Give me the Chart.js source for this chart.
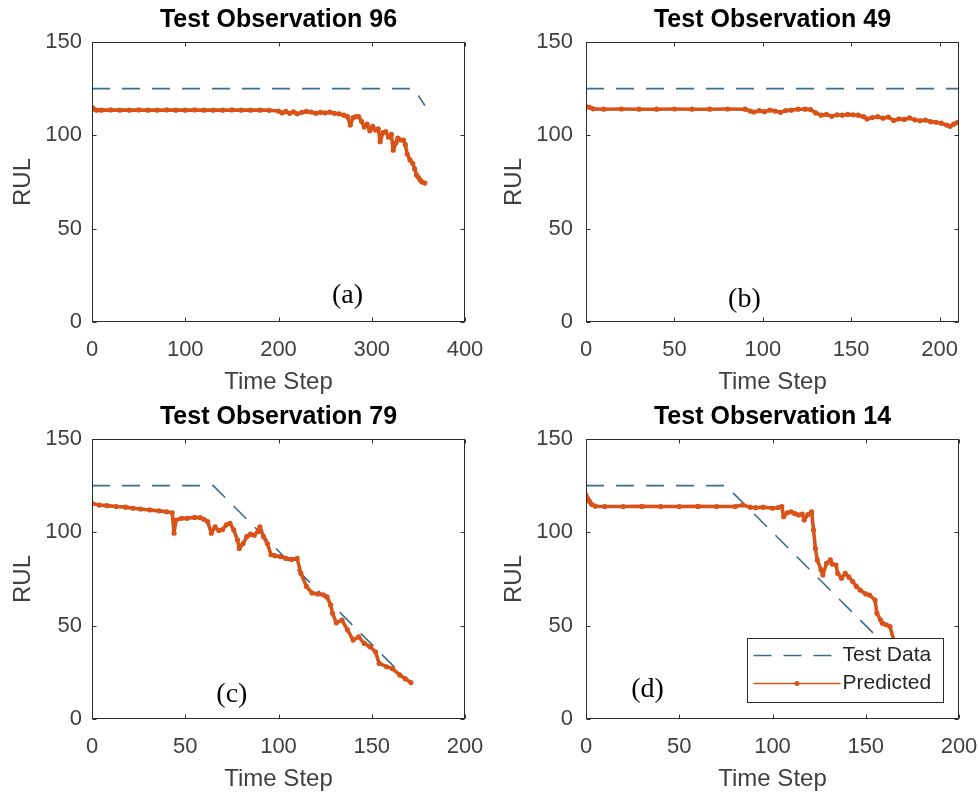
<!DOCTYPE html>
<html><head><meta charset="utf-8">
<script src="https://cdn.jsdelivr.net/npm/chart.js@4.4.0/dist/chart.umd.min.js"></script>
<style>
html,body{margin:0;padding:0;background:#fff;}
#wrap{position:relative;width:979px;height:794px;overflow:hidden;background:#fff;}
#wrap canvas{position:absolute;}
</style></head><body>
<div id="wrap">
<canvas id="cA" width="489" height="397" style="left:0;top:0"></canvas>
<canvas id="cB" width="490" height="397" style="left:489px;top:0"></canvas>
<canvas id="cC" width="489" height="397" style="left:0;top:397px"></canvas>
<canvas id="cD" width="490" height="397" style="left:489px;top:397px"></canvas>
</div>
<script>
// ---------- data ----------
const panelTitles = ['Test Observation 96', 'Test Observation 49', 'Test Observation 79', 'Test Observation 14'];
const panelTags = ['(a)', '(b)', '(c)', '(d)'];
const seriesNames = ['Test Data', 'Predicted'];
const xAxisTitle = 'Time Step';
const yAxisTitle = 'RUL';
const yTicks = [0, 50, 100, 150];
const xTicksA = [0, 100, 200, 300, 400];
const xTicksB = [0, 50, 100, 150, 200];
const xTicksC = [0, 50, 100, 150, 200];
const xTicksD = [0, 50, 100, 150, 200];
const xMaxA = 400, xMaxB = 211, xMaxC = 200, xMaxD = 200;

// Panel (a)
const testAX = [0, 345, 357];
const testAY = [125, 125, 116];
const predAX = [0,2,5,10,20,30,40,50,60,70,80,90,100,110,120,130,140,150,160,170,180,190,200,204,208,212,216,220,225,230,235,240,245,250,255,260,265,270,274,277,280,283,286,289,292,295,298,301,304,307,309,312,315,318,321,323,326,328,331,334,336,338,341,344,346,348,350,352,354,357];
const predAY = [115,114,113.5,113.5,113.6,113.5,113.5,113.6,113.5,113.5,113.6,113.5,113.5,113.6,113.5,113.5,113.5,113.6,113.5,113.5,113.5,113.4,113,112,112.8,111.8,112.6,111.5,112.3,112.8,112.5,111.8,112.3,112,112.4,111.8,111.5,110.8,110,105.5,109.5,110,110,107.5,104.5,106,102.5,104.8,102.8,103.5,96.6,101.5,102,99,100.5,92,96,98.5,97.5,97.5,95,90,86.8,85,82,78.7,77.5,76,75,74.4];

// Panel (b)
const testBX = [0, 211];
const testBY = [125, 125];
const predBX = [0,2,4,10,20,30,40,50,60,70,80,90,93,95,98,101,104,107,110,113,116,120,124,127,130,133,136,139,142,145,148,151,154,157,159,162,165,168,171,174,177,180,183,186,189,192,195,198,201,204,206,208,210,211];
const predBY = [115.5,115,114.2,114,114.1,114,114,114.1,114,114,114.1,114,113,112.5,113.2,112.7,113.5,113,112.3,113.3,113.5,114,114,113.8,112,110.8,111.2,110.2,111,110.8,111.2,111,110.8,110,108.8,109.5,110,109.2,109.8,108,108.8,108.5,109.3,108.3,107.8,108.2,107.3,107,106.5,105.5,104.8,106,106.8,107];

// Panel (c)
const testCX = [0, 65, 171];
const testCY = [125, 125, 19];
const predCX = [0,4,8,13,18,22,26,31,36,40,43,44,45,48,51,55,58,60,62,64,66,68,70,72,74,76,78,79,81,83,85,87,89,90,92,94,96,98,101,104,107,110,112,115,118,121,124,126,128,129,131,134,137,140,143,146,149,152,154,158,161,165,168,171];
const predCY = [115.5,114.6,114.3,113.8,113.5,112.9,112.5,112,111.5,111,110.5,99.5,106.6,107.5,107.5,108,107.9,107,105.7,99.5,103,101,101.5,104,104.8,101.3,95.9,91.4,94,97.7,99,98.5,100.5,103,97.7,94,88,87.5,87,86,85.5,86,78,71,67.5,67,66.5,65.5,61,56.6,51.5,53,47.7,42.3,44,40.5,38.8,36,29.8,28,27,23.6,21.5,19.5];

// Panel (d)
const testDX = [0, 75, 168];
const testDY = [125, 125, 32];
const predDX = [0,1,2,3,5,10,20,30,40,50,60,70,80,84,88,91,95,100,103,105,106,108,110,112,114,116,117,119,121,122,123,124,126,127,129,131,132,134,135,137,139,141,143,145,147,150,152,155,156,158,159,161,163,165,166,168];
const predDY = [120,118,116.4,115,114,113.8,113.8,113.9,113.8,113.8,113.9,113.8,113.8,114.6,113.5,113.2,113.5,112.9,113.3,113.8,108.4,110.5,111,110,109.3,109.8,106.6,109.5,111,101.2,91.4,85.2,80,77.1,83.4,85.2,83,82.5,78,75.4,78,76,73.6,71,69.1,67,66.4,63.75,56.6,53,51.25,50.5,49.5,42.3,40,37];

// annotation anchor (data coords) for the (a)..(d) tags
const tagAnchors = [[274, 14.5], [89.6, 12.3], [75, 13.4], [33, 16]];

// ---------- styling / build ----------
const SANS = '"Liberation Sans", Arial, Helvetica, sans-serif';
const BLUE = '#3a6d8e';
const ORANGE = '#D95319';
const AXC = '#404040';
const DASH = [18, 12];

const toPts = (xs, ys) => xs.map((x, i) => ({x: x, y: ys[i]}));

const boxPlugin = {
  id: 'matlabBox',
  afterDatasetsDraw(chart, args, o) {
    const {ctx, chartArea: a, scales} = chart;
    ctx.save();
    const L = Math.round(a.left) + 0.5, T = Math.round(a.top) + 0.5;
    const R = Math.round(a.right) - 0.5, B = Math.round(a.bottom) - 0.5;
    ctx.strokeStyle = '#333';
    ctx.lineWidth = 1;
    ctx.setLineDash([]);
    const tl = 4;
    ctx.beginPath();
    scales.x.ticks.forEach(t => {
      const p = Math.round(scales.x.getPixelForValue(t.value)) + 0.5;
      ctx.moveTo(p, B); ctx.lineTo(p, B - tl);
      ctx.moveTo(p, T); ctx.lineTo(p, T + tl);
    });
    scales.y.ticks.forEach(t => {
      const p = Math.round(scales.y.getPixelForValue(t.value)) + 0.5;
      ctx.moveTo(L, p); ctx.lineTo(L + tl, p);
      ctx.moveTo(R, p); ctx.lineTo(R - tl, p);
    });
    ctx.stroke();
    ctx.strokeStyle = '#2b2b2b';
    ctx.strokeRect(L, T, R - L, B - T);
    // panel tag
    ctx.fillStyle = '#000';
    ctx.font = '28px "Liberation Serif", "Times New Roman", serif';
    ctx.textAlign = 'center';
    ctx.textBaseline = 'middle';
    ctx.fillText(o.tag, scales.x.getPixelForValue(o.tagX), scales.y.getPixelForValue(o.tagY) + 1);
    // legend
    if (o.legend) {
      const w = 196, h = 64;
      const lx = Math.round(a.right - 16 - w) + 0.5, ly = Math.round(a.bottom - 17 - h) + 0.5;
      ctx.fillStyle = '#fff';
      ctx.fillRect(lx, ly, w, h);
      ctx.strokeStyle = '#2b2b2b';
      ctx.lineWidth = 1;
      ctx.strokeRect(lx, ly, w, h);
      const rows = [17, 45];
      const sx0 = lx + 6, sx1 = lx + 93;
      ctx.strokeStyle = BLUE; ctx.lineWidth = 1.5; ctx.setLineDash(DASH);
      ctx.beginPath(); ctx.moveTo(sx0, ly + rows[0]); ctx.lineTo(sx1, ly + rows[0]); ctx.stroke();
      ctx.setLineDash([]);
      ctx.strokeStyle = ORANGE; ctx.lineWidth = 1.5;
      ctx.beginPath(); ctx.moveTo(sx0, ly + rows[1]); ctx.lineTo(sx1, ly + rows[1]); ctx.stroke();
      ctx.fillStyle = ORANGE;
      ctx.beginPath(); ctx.arc((sx0 + sx1) / 2, ly + rows[1], 2.5, 0, Math.PI * 2); ctx.fill();
      ctx.fillStyle = '#262626';
      ctx.font = '21px ' + SANS;
      ctx.textAlign = 'left';
      ctx.textBaseline = 'middle';
      ctx.fillText(seriesNames[0], sx1 + 2, ly + rows[0]);
      ctx.fillText(seriesNames[1], sx1 + 2, ly + rows[1]);
    }
    ctx.restore();
  }
};

function makeChart(id, idx, tX, tY, pX, pY, xTicks, xMax, isRight, legend) {
  const yW = isRight ? 97 : 92;
  const padR = isRight ? 20 : 24;
  new Chart(document.getElementById(id), {
    type: 'line',
    data: {
      datasets: [
        {
          label: seriesNames[1], data: toPts(pX, pY), order: 0,
          borderColor: ORANGE, backgroundColor: ORANGE, borderWidth: 3.6,
          borderJoinStyle: 'round', borderCapStyle: 'round',
          pointRadius: 2.6, pointBorderWidth: 0, pointBackgroundColor: ORANGE,
          pointHoverRadius: 0, tension: 0
        },
        {
          label: seriesNames[0], data: toPts(tX, tY), order: 1,
          borderColor: BLUE, borderWidth: 1.6, borderDash: DASH,
          pointRadius: 0, tension: 0
        }
      ]
    },
    options: {
      responsive: false, animation: false, devicePixelRatio: 1, events: [],
      layout: {padding: {left: 0, right: padR, top: 0, bottom: 0}},
      plugins: {
        legend: {display: false},
        tooltip: {enabled: false},
        title: {
          display: true, text: panelTitles[idx], fullSize: false,
          color: '#000', font: {family: SANS, size: 25, weight: 'bold', lineHeight: 1.2},
          padding: {top: 5.5, bottom: 6.5}
        },
        matlabBox: {tag: panelTags[idx], tagX: tagAnchors[idx][0], tagY: tagAnchors[idx][1], legend: legend}
      },
      scales: {
        x: {
          type: 'linear', min: 0, max: xMax,
          afterBuildTicks: s => { s.ticks = xTicks.map(v => ({value: v})); },
          afterFit: s => { s.height = 75; s.paddingRight = 0; s.paddingLeft = 0; },
          grid: {display: false, drawTicks: false}, border: {display: false},
          ticks: {color: AXC, font: {family: SANS, size: 22}, padding: 15, maxRotation: 0, includeBounds: false},
          title: {display: true, text: xAxisTitle, color: AXC, font: {family: SANS, size: 24}, padding: {top: 0, bottom: 0}}
        },
        y: {
          type: 'linear', min: 0, max: 150,
          afterBuildTicks: s => { s.ticks = yTicks.map(v => ({value: v})); },
          afterFit: s => { s.width = yW; },
          grid: {display: false, drawTicks: false}, border: {display: false},
          ticks: {color: AXC, font: {family: SANS, size: 22}, padding: isRight ? 13 : 10},
          title: {display: true, text: yAxisTitle, color: AXC, font: {family: SANS, size: 24}, padding: {top: isRight ? 11 : 9, bottom: 0}}
        }
      }
    },
    plugins: [boxPlugin]
  });
}

makeChart('cA', 0, testAX, testAY, predAX, predAY, xTicksA, xMaxA, false, false);
makeChart('cB', 1, testBX, testBY, predBX, predBY, xTicksB, xMaxB, true, false);
makeChart('cC', 2, testCX, testCY, predCX, predCY, xTicksC, xMaxC, false, false);
makeChart('cD', 3, testDX, testDY, predDX, predDY, xTicksD, xMaxD, true, true);
</script>
</body></html>
